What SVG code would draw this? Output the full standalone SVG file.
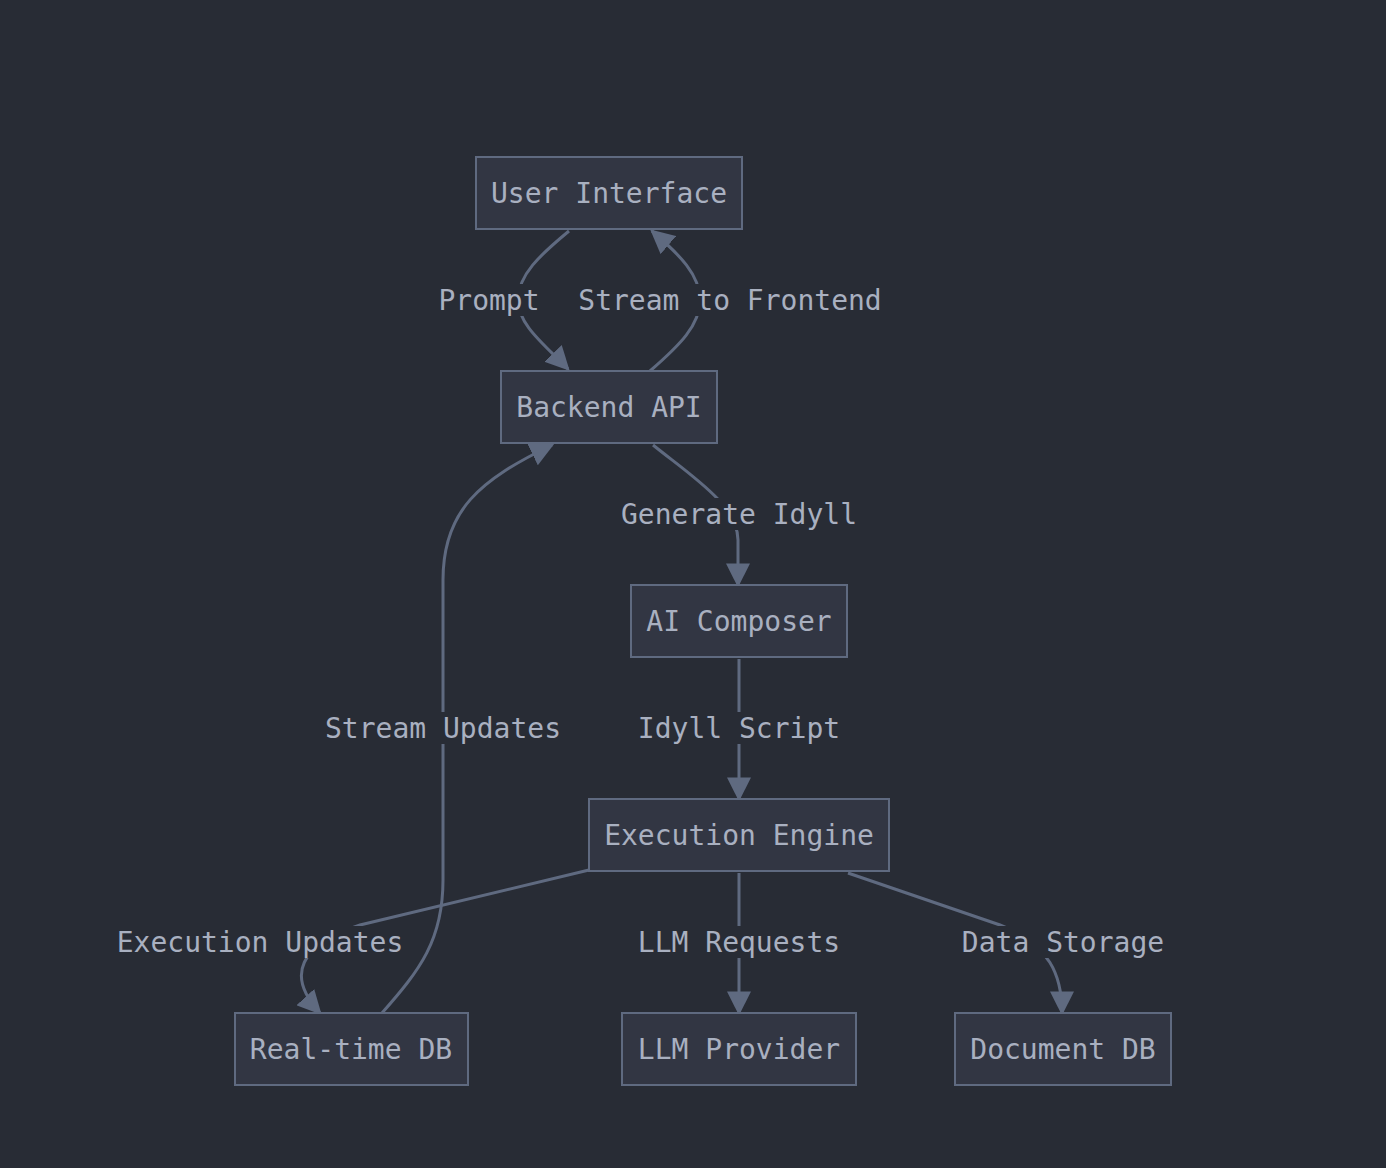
<svg xmlns="http://www.w3.org/2000/svg" width="1386" height="1168" viewBox="0 0 1386 1168">
<style>
.n rect{fill:#323643;stroke:#5f6a80;stroke-width:2}
text{font-family:"DejaVu Sans Mono",monospace;font-size:28px;fill:#a9b0c0;text-anchor:middle;dominant-baseline:central}
.e path{fill:none;stroke:#5f6a80;stroke-width:3}
.lb{fill:#282c35}
</style>
<defs><marker id="a" viewBox="0 0 10 10" refX="9" refY="5" markerWidth="10" markerHeight="10" markerUnits="userSpaceOnUse" orient="auto"><path d="M0,0L10,5L0,10z" fill="#5f6a80"/></marker>
<marker id="b" viewBox="0 0 10 10" refX="9" refY="5" markerWidth="24" markerHeight="24" markerUnits="userSpaceOnUse" orient="auto"><path d="M0,0L10,5L0,10z" fill="#5f6a80"/></marker></defs>
<rect width="1386" height="1168" fill="#282c35"/>
<g class="e" id="connectors">
<path d="M569,231 C540,255 518,275 518,300 C518,325 545,345 568,369" marker-end="url(#b)"/>
<path d="M650,371 C680,345 700,325 700,300 C700,275 680,255 652,231" marker-end="url(#b)"/>
<path d="M653,445 C690,475 738,505 738,540 L738,585" marker-end="url(#b)"/>
<path d="M739,659 L739,799" marker-end="url(#b)"/>
<path d="M589,870 L360,925 C300,945 285,975 320,1013" marker-end="url(#b)"/>
<path d="M739,873 L739,1013" marker-end="url(#b)"/>
<path d="M848,873 L1000,925 C1050,945 1062,975 1062,1013" marker-end="url(#b)"/>
<path d="M382,1013 C420,970 443,940 443,880 L443,580 C443,510 480,480 552,445" marker-end="url(#b)"/>
</g>
<g id="labels">
<rect class="lb" x="437" y="284" width="104" height="32"/><text x="489" y="300">Prompt</text>
<rect class="lb" x="578" y="284" width="304" height="32"/><text x="730" y="300">Stream to Frontend</text>
<rect class="lb" x="620" y="498" width="238" height="32"/><text x="739" y="514">Generate Idyll</text>
<rect class="lb" x="637" y="712" width="204" height="32"/><text x="739" y="728">Idyll Script</text>
<rect class="lb" x="325" y="712" width="236" height="32"/><text x="443" y="728">Stream Updates</text>
<rect class="lb" x="116" y="926" width="288" height="32"/><text x="260" y="942">Execution Updates</text>
<rect class="lb" x="637" y="926" width="204" height="32"/><text x="739" y="942">LLM Requests</text>
<rect class="lb" x="961" y="926" width="204" height="32"/><text x="1063" y="942">Data Storage</text>
</g>
<g class="n" id="ui"><rect x="476" y="157" width="266" height="72"/><text x="609" y="193">User Interface</text></g>
<g class="n" id="api"><rect x="501" y="371" width="216" height="72"/><text x="609" y="407">Backend API</text></g>
<g class="n" id="composer"><rect x="631" y="585" width="216" height="72"/><text x="739" y="621">AI Composer</text></g>
<g class="n" id="engine"><rect x="589" y="799" width="300" height="72"/><text x="739" y="835">Execution Engine</text></g>
<g class="n" id="rtdb"><rect x="235" y="1013" width="233" height="72"/><text x="351" y="1049">Real-time DB</text></g>
<g class="n" id="llm"><rect x="622" y="1013" width="234" height="72"/><text x="739" y="1049">LLM Provider</text></g>
<g class="n" id="docdb"><rect x="955" y="1013" width="216" height="72"/><text x="1063" y="1049">Document DB</text></g>
</svg>
